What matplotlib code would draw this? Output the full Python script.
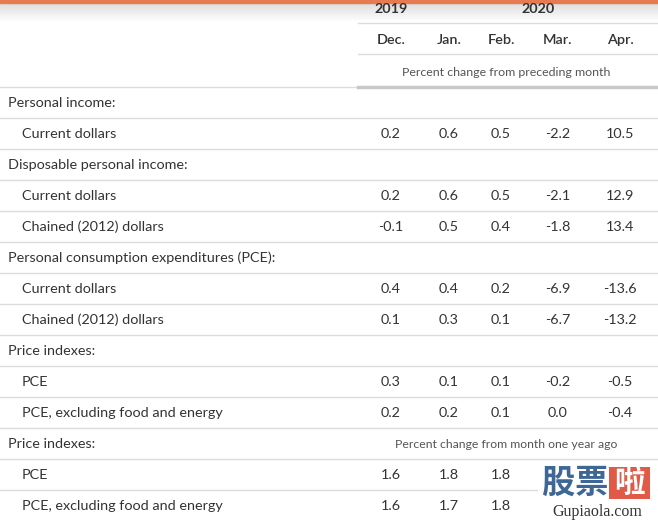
import matplotlib
matplotlib.use("Agg")
import matplotlib.pyplot as plt
import numpy as np

years = ["2019", "2020"]
months = ["Dec.", "Jan.", "Feb.", "Mar.", "Apr."]
subhead1 = "Percent change from preceding month"
subhead2 = "Percent change from month one year ago"

row_labels = [
    "Personal income:",
    "Current dollars",
    "Disposable personal income:",
    "Current dollars",
    "Chained (2012) dollars",
    "Personal consumption expenditures (PCE):",
    "Current dollars",
    "Chained (2012) dollars",
    "Price indexes:",
    "PCE",
    "PCE, excluding food and energy",
    "Price indexes:",
    "PCE",
    "PCE, excluding food and energy",
]
row_indent = [0, 1, 0, 1, 1, 0, 1, 1, 0, 1, 1, 0, 1, 1]
row_values = [
    None,
    ["0.2", "0.6", "0.5", "-2.2", "10.5"],
    None,
    ["0.2", "0.6", "0.5", "-2.1", "12.9"],
    ["-0.1", "0.5", "0.4", "-1.8", "13.4"],
    None,
    ["0.4", "0.4", "0.2", "-6.9", "-13.6"],
    ["0.1", "0.3", "0.1", "-6.7", "-13.2"],
    None,
    ["0.3", "0.1", "0.1", "-0.2", "-0.5"],
    ["0.2", "0.2", "0.1", "0.0", "-0.4"],
    None,
    ["1.6", "1.8", "1.8", "", ""],
    ["1.6", "1.7", "1.8", "", ""],
]

W, H = 658, 524
fig = plt.figure(figsize=(W / 100, H / 100), dpi=100)
ax = fig.add_axes([0, 0, 1, 1])
ax.set_xlim(0, W)
ax.set_ylim(H, 0)
ax.axis("off")

FONT = ["Lato", "DejaVu Sans"]
TXT = "#333333"
LINE = "#dcdcdc"
fs = 10.4

# top orange bar and soft gradient
grad = np.linspace(0.86, 1.0, 50).reshape(-1, 1)
ax.imshow(np.dstack([grad, grad, grad]), extent=(0, W, 22, 2), aspect="auto", zorder=0)
ax.fill_between([0, W], 0, 2.5, color="#e77a4f", zorder=1)

col_x = [391, 449, 501, 558, 620]
tab_left = 358

# header
ax.text(391, 9, years[0], ha="center", va="center", fontsize=fs, fontweight="bold", color=TXT, family=FONT)
ax.text(538, 9, years[1], ha="center", va="center", fontsize=fs, fontweight="bold", color=TXT, family=FONT)
ax.plot([tab_left, W], [23, 23], color=LINE, lw=1)
for x, m in zip(col_x, months):
    ax.text(x, 40, m, ha="center", va="center", fontsize=fs, fontweight="semibold", color=TXT, family=FONT)
ax.plot([tab_left, W], [53.5, 53.5], color=LINE, lw=1)
ax.text(506, 72, subhead1, ha="center", va="center", fontsize=8.9, color="#555555", family=FONT)
ax.plot([0, W], [86.5, 86.5], color=LINE, lw=1)
ax.plot([tab_left, W], [86.5, 86.5], color="#c8c8c8", lw=2.5)

y0 = 103
dy = 31
for i, (lab, ind, vals) in enumerate(zip(row_labels, row_indent, row_values)):
    y = y0 + i * dy
    ax.text(8 + 14 * ind, y, lab, ha="left", va="center", fontsize=fs, color=TXT, family=FONT)
    if vals:
        for x, v in zip(col_x, vals):
            if v:
                ax.text(x, y, v, ha="center", va="center", fontsize=fs, color=TXT, family=FONT)
    if i == 11:
        ax.text(506, y, subhead2, ha="center", va="center", fontsize=8.8, color="#555555", family=FONT)
    if i < len(row_labels) - 1:
        ax.plot([0, W], [y + 14.5, y + 14.5], color=LINE, lw=1)

# watermark
ax.add_patch(plt.Rectangle((538, 462), 120, 62, color="white", alpha=0.9, zorder=3, lw=0))
wm_font = ["Noto Sans CJK SC", "DejaVu Sans"]
ax.text(558, 483, "股", ha="center", va="center", fontsize=24, fontweight="black", color="#3e6796",
        family=wm_font, zorder=5)
ax.text(591, 483, "票", ha="center", va="center", fontsize=24, fontweight="black", color="#3e6796",
        family=wm_font, zorder=5)
ax.add_patch(plt.Rectangle((609, 467), 41, 32, color="#e05a48", zorder=4, lw=0))
ax.text(629.5, 483, "啦", ha="center", va="center", fontsize=22, fontweight="bold", color="white",
        family=wm_font, zorder=5)
ax.text(597, 512, "Gupiaola.com", ha="center", va="center", fontsize=11.5, color="#333333",
        family=["Liberation Serif", "DejaVu Serif"], zorder=5)

fig.savefig("out.png", dpi=100)
